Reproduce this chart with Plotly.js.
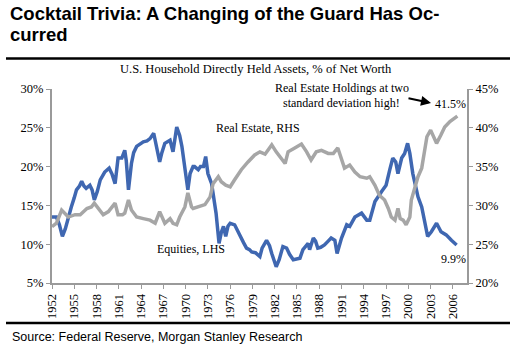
<!DOCTYPE html>
<html>
<head>
<meta charset="utf-8">
<script src="https://cdn.plot.ly/plotly-3.0.1.min.js"></script>
<style>
html,body{margin:0;padding:0;background:#fff;}
#chart{width:521px;height:352px;}
</style>
</head>
<body>
<div id="chart"></div>
<script>
// ---- Data ----
const eqYears = [1952.0,1952.6,1953.0,1953.4,1953.8,1954.2,1954.6,1955.0,1955.3,1955.7,1956.0,1956.3,1956.6,1957.1,1957.4,1957.7,1958.1,1958.5,1959.1,1959.7,1960.1,1960.5,1960.9,1961.4,1961.8,1962.0,1962.3,1962.7,1963.0,1963.4,1963.9,1964.3,1964.8,1965.2,1965.7,1966.1,1966.5,1966.8,1967.2,1967.9,1968.3,1968.8,1969.2,1969.5,1969.8,1970.1,1970.3,1970.6,1971.0,1971.2,1971.7,1972.0,1972.4,1972.7,1973.0,1973.5,1974.1,1974.5,1974.8,1975.1,1975.4,1975.7,1976.0,1976.6,1977.3,1977.8,1978.2,1978.6,1978.9,1979.4,1980.0,1980.3,1980.9,1981.3,1981.6,1982.2,1982.6,1983.1,1983.6,1984.0,1984.5,1985.0,1985.4,1985.8,1986.5,1986.7,1987.2,1987.5,1987.8,1988.2,1988.7,1989.2,1989.6,1990.1,1990.4,1991.0,1991.7,1992.1,1992.8,1993.7,1994.4,1994.8,1995.5,1996.4,1997.0,1997.5,1997.9,1998.3,1998.6,1999.1,1999.5,1999.9,2000.2,2000.6,2001.1,2001.3,2001.8,2002.2,2002.6,2003.1,2003.8,2004.4,2005.1,2005.8,2006.5];
const equities = [13.5,13.5,12.5,11.0,12.0,13.5,14.8,16.0,17.0,17.5,18.1,17.5,17.2,17.6,17.0,15.7,16.8,18.3,19.3,19.8,19.0,17.8,21.1,21.1,22.1,20.8,17.0,20.4,21.8,22.6,22.9,23.2,23.3,23.6,24.3,22.6,20.6,21.8,23.0,23.4,21.9,25.1,24.0,22.6,20.5,18.5,17.0,19.1,20.0,20.0,19.6,20.0,20.0,21.3,19.1,17.8,14.0,10.1,11.5,12.3,11.0,12.3,12.7,12.5,11.0,10.2,9.5,9.3,9.0,8.9,8.4,9.5,10.5,9.8,8.8,7.1,8.0,9.7,9.5,8.7,8.0,8.1,8.2,9.3,10.1,9.3,10.8,10.4,9.5,9.6,9.9,10.4,10.8,10.5,8.8,10.8,12.5,12.3,13.5,14.0,13.1,13.1,15.5,16.8,17.6,19.6,21.1,20.6,19.1,21.1,21.7,23.0,21.7,19.1,17.0,16.1,14.8,12.7,11.0,11.6,12.7,11.6,11.2,10.5,9.9];

const reYears = [1952.0,1952.6,1953.3,1953.7,1954.2,1955.1,1955.8,1956.7,1957.3,1957.7,1958.2,1958.9,1959.6,1960.5,1960.9,1961.5,1961.8,1962.3,1962.7,1963.4,1964.3,1965.2,1965.9,1966.5,1967.2,1967.9,1968.3,1968.8,1969.2,1969.9,1970.3,1970.8,1971.0,1971.7,1972.6,1973.3,1973.7,1974.4,1974.8,1975.4,1976.0,1976.6,1977.5,1978.4,1979.3,1980.0,1980.7,1981.6,1982.2,1983.4,1983.8,1984.7,1985.6,1986.3,1986.9,1987.6,1988.3,1989.2,1989.9,1990.5,1991.0,1991.4,1992.1,1992.8,1993.5,1994.4,1994.8,1995.5,1996.1,1996.8,1997.3,1997.7,1998.2,1998.6,1998.9,1999.3,1999.7,2000.2,2000.4,2000.9,2001.3,2001.8,2002.0,2002.5,2003.0,2003.4,2003.8,2004.4,2004.9,2005.6,2006.2,2006.6];
const realEstate = [27.25,27.7,29.4,29.0,28.5,28.8,28.8,29.6,29.8,30.3,29.6,28.8,29.2,30.3,28.8,28.8,29.0,30.7,29.4,28.5,28.3,28.1,27.7,29.2,27.7,28.3,27.7,27.5,28.5,29.8,31.6,29.8,29.6,29.8,30.1,31.1,32.8,33.7,33.05,32.6,32.4,33.3,34.6,35.6,36.5,36.9,36.6,37.8,36.9,35.4,36.9,37.4,37.9,36.9,35.85,36.9,37.1,36.7,36.7,37.4,36.1,34.8,35.2,34.3,33.7,33.5,33.7,32.6,31.3,30.7,29.6,28.5,28.1,29.6,28.3,28.1,27.5,28.5,30.7,32.2,33.7,34.8,35.85,38.85,39.7,38.85,38.0,39.1,40.1,40.8,41.2,41.5];

const tickYears = [1952,1955,1958,1961,1964,1967,1970,1973,1976,1979,1982,1985,1988,1991,1994,1997,2000,2003,2006];
const tickLabels = tickYears.map(String);
const leftTicks = [5,10,15,20,25,30];
const rightTicks = [20,25,30,35,40,45];

// ---- Layout helpers (pixel -> paper) ----
const L = 52, R = 467, T = 89, B = 283;
const px = x => (x - L) / (R - L);
const py = y => (B - y) / (B - T);

const serif = '"Liberation Serif", "Times New Roman", serif';
const sans = '"Liberation Sans", Arial, sans-serif';
const axisCol = '#9a9a9a';
const tickFont = {family: serif, size: 12.5, color: '#000'};

const traces = [
  {x: reYears, y: realEstate, yaxis: 'y2', type: 'scatter', mode: 'lines',
   line: {color: '#a6a6a6', width: 3.5}, hoverinfo: 'skip'},
  {x: eqYears, y: equities, yaxis: 'y', type: 'scatter', mode: 'lines',
   line: {color: '#3f67b1', width: 3.5}, hoverinfo: 'skip'}
];

const ann = (text, x, y, opts) => Object.assign({
  text: text, xref: 'paper', yref: 'paper', x: px(x), y: py(y),
  showarrow: false, font: {family: serif, size: 12, color: '#000'},
  xanchor: 'center', yanchor: 'middle'
}, opts || {});

const layout = {
  width: 521, height: 352,
  margin: {l: L, r: 521 - R, t: T, b: 352 - B, pad: 0},
  paper_bgcolor: '#fff', plot_bgcolor: '#fff',
  showlegend: false,
  xaxis: {
    range: [1952, 2007.9], tickmode: 'array', tickvals: tickYears, ticktext: tickLabels,
    tickangle: -90, tickfont: tickFont,
    showline: true, linecolor: axisCol, linewidth: 2, ticks: 'outside', ticklen: 4,
    tickcolor: axisCol, showgrid: false, zeroline: false, fixedrange: true
  },
  yaxis: {
    range: [5, 30], tickmode: 'array', tickvals: leftTicks, ticktext: leftTicks.map(v => v + '%'),
    tickfont: tickFont,
    showline: true, linecolor: axisCol, linewidth: 2, ticks: 'outside', ticklen: 4,
    tickcolor: axisCol, showgrid: false, zeroline: false
  },
  yaxis2: {
    range: [20, 45], overlaying: 'y', side: 'right', tickmode: 'array', tickvals: rightTicks,
    ticktext: rightTicks.map(v => v + '%'),
    tickfont: tickFont,
    showline: true, linecolor: axisCol, linewidth: 2, ticks: 'outside', ticklen: 4,
    tickcolor: axisCol, showgrid: false, zeroline: false
  },
  shapes: [
    {type: 'line', xref: 'paper', yref: 'paper', x0: px(6), x1: px(510), y0: py(58.5), y1: py(58.5),
     line: {color: '#000', width: 2.5}},
    {type: 'line', xref: 'paper', yref: 'paper', x0: px(6), x1: px(510), y0: py(323), y1: py(323),
     line: {color: '#000', width: 2.5}}
  ],
  annotations: [
    ann('<b>Cocktail Trivia: A Changing of the Guard Has Oc-</b>', 8, 13,
        {xanchor: 'left', font: {family: sans, size: 18.5, color: '#000'}}),
    ann('<b>curred</b>', 8, 34.5,
        {xanchor: 'left', font: {family: sans, size: 18.5, color: '#000'}}),
    ann('U.S. Household Directly Held Assets, % of Net Worth', 256, 69.5, {font: {family: serif, size: 12.5, color: '#000'}}),
    ann('Real Estate Holdings at two', 341.5, 87.5),
    ann('standard deviation high!', 341.5, 103.5),
    ann('41.5%', 450, 104),
    ann('Real Estate, RHS', 258, 128),
    ann('Equities, LHS', 191, 249),
    ann('9.9%', 453, 259),
    ann('Source: Federal Reserve, Morgan Stanley Research', 10, 337,
        {xanchor: 'left', font: {family: sans, size: 12.5, color: '#000'}}),
    {text: '', xref: 'paper', yref: 'paper', x: px(431), y: py(103), ax: -24, ay: -5,
     showarrow: true, arrowhead: 2, arrowsize: 1, arrowwidth: 2, arrowcolor: '#000'}
  ]
};

Plotly.newPlot('chart', traces, layout, {staticPlot: true, displayModeBar: false});
</script>
</body>
</html>
